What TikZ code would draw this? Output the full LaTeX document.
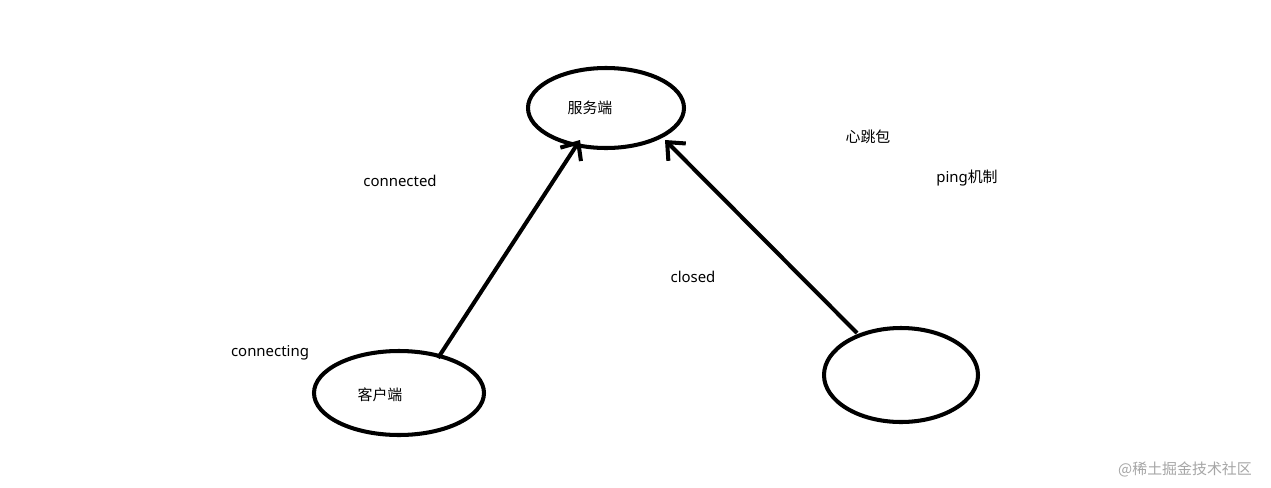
\documentclass[tikz,border=0pt]{standalone}
\usepackage{fontspec}
\setmainfont{Noto Sans}
\newfontfamily\cjk{Noto Sans CJK SC}
\usetikzlibrary{arrows.meta}
\begin{document}
\begin{tikzpicture}[x=0.02cm,y=-0.02cm,
  ell/.style={draw,line width=2.3pt},
  lbl/.style={font=\fontsize{8.5}{10}\selectfont,inner sep=0},
  arr/.style={line width=2.3pt,-{Straight Barb[length=8pt,width=14pt,line width=2.3pt]}}]
\useasboundingbox (0,0) rectangle (1271,487);
\fill[white] (0,0) rectangle (1271,487);
\draw[ell] (606,108) ellipse [x radius=78,y radius=40];
\draw[ell] (399,393) ellipse [x radius=85,y radius=42];
\draw[ell] (901,375) ellipse [x radius=77,y radius=47];
\coordinate (s1) at (438,358);
\coordinate (t1) at (580,140);
\coordinate (s2) at (857,333);
\coordinate (t2) at (665,140);
\draw[arr] (s1) -- (t1);
\draw[arr] (s2) -- (t2);
\node[lbl] (srv) at (590,108) {\cjk 服务端};
\node[lbl] (cli) at (380,395) {\cjk 客户端};
\node[lbl] (a) at (400,181) {connected};
\node[lbl] (b) at (270,353) {connecting};
\node[lbl] (c) at (693,277) {closed};
\node[lbl] (d) at (868,137) {\cjk 心跳包};
\node[lbl] (e) at (967,178) {ping\cjk 机制};
\node[lbl,text=gray!70] (w) at (1185,469) {\cjk @稀土掘金技术社区};
\end{tikzpicture}
\end{document}
